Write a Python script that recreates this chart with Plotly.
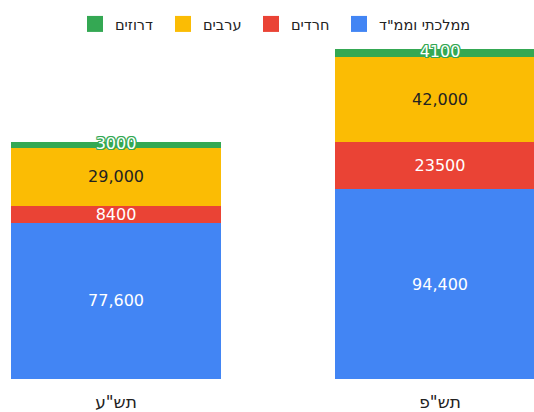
import plotly.graph_objects as go

years = ['תש"ע', 'תש"פ']
series_names = ['ממלכתי וממ"ד', 'חרדים', 'ערבים', 'דרוזים']
mamlachti = [77600, 94400]
haredim = [8400, 23500]
aravim = [29000, 42000]
druzim = [3000, 4100]

colors = ['#4285F4', '#EA4335', '#FBBC04', '#34A853']
FONT = 'DejaVu Sans'

fig = go.Figure()
specs = [
    (series_names[0], mamlachti, colors[0], '%{y:,}', 'white'),
    (series_names[1], haredim, colors[1], '%{y:.0f}', 'white'),
    (series_names[2], aravim, colors[2], '%{y:,}', '#222222'),
]
for name, vals, col, tt, tc in specs:
    fig.add_trace(go.Bar(
        x=years, y=vals, name=name, marker=dict(color=col, line=dict(width=0)),
        texttemplate=tt, textposition='inside', insidetextanchor='middle',
        textangle=0, constraintext='none', showlegend=False,
        textfont=dict(family=FONT, size=16, color=tc), width=0.648,
        hoverinfo='skip'))

fig.add_trace(go.Bar(
    x=years, y=druzim, name=series_names[3], marker=dict(color=colors[3], line=dict(width=0)),
    textposition='none', width=0.648, hoverinfo='skip', showlegend=False))

# labels for thin top segment
base = [m + h + a for m, h, a in zip(mamlachti, haredim, aravim)]
label_y = [b + d / 2 for b, d in zip(base, druzim)]
sh = colors[3]
fig.add_trace(go.Scatter(
    x=years, y=label_y, mode='text', text=[str(v) for v in druzim],
    textposition='middle center', showlegend=False, hoverinfo='skip',
    textfont=dict(family=FONT, size=16, color='white',
                  shadow=f'1px 1px 0 {sh}, -1px -1px 0 {sh}, 1px -1px 0 {sh}, -1px 1px 0 {sh}, 0 1px 0 {sh}, 0 -1px 0 {sh}, 1px 0 0 {sh}, -1px 0 0 {sh}')))

# legend entries (left to right as in the reference)
for i in [3, 2, 1, 0]:
    fig.add_trace(go.Scatter(
        x=[years[0]], y=[None], mode='markers', name=series_names[i],
        marker=dict(symbol='square', size=16, color=colors[i], line=dict(width=0)),
        hoverinfo='skip', showlegend=True,
        legend='legend2' if i == 0 else 'legend'))

legend_font = dict(family=FONT, size=14.5, color='#222222')
fig.update_layout(
    barmode='stack',
    width=534, height=412,
    margin=dict(l=0, r=0, t=40, b=31),
    paper_bgcolor='white', plot_bgcolor='white',
    showlegend=True,
    legend=dict(orientation='h', x=75 / 534, xanchor='left', y=1.0, yanchor='bottom',
                traceorder='normal', entrywidth=43, entrywidthmode='pixels',
                font=legend_font),
    legend2=dict(orientation='h', x=339 / 534, xanchor='left', y=1.0, yanchor='bottom',
                 font=legend_font),
    xaxis=dict(range=[-0.358, 1.290], showgrid=False, zeroline=False, showline=False,
               ticks='', ticklabelstandoff=11,
               tickfont=dict(family=FONT, size=17, color='#222222')),
    yaxis=dict(range=[0, 168600], showgrid=False, zeroline=False, showline=False,
               showticklabels=False, ticks=''),
    font=dict(family=FONT),
)

fig.write_html('out.html')
